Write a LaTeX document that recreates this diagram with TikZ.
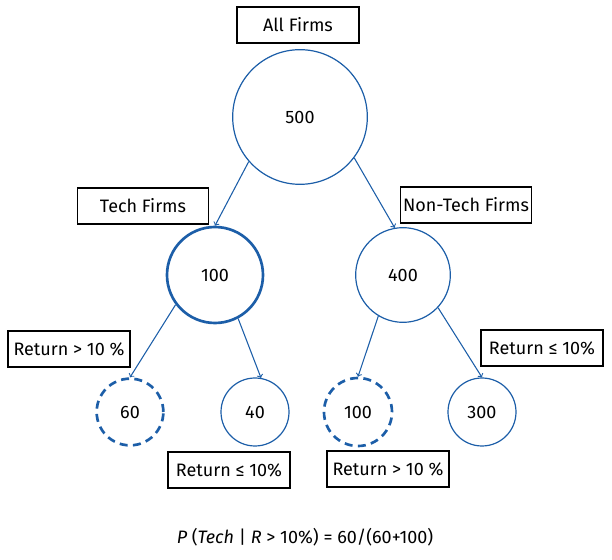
\documentclass[tikz,border=0pt]{standalone}
\usepackage{fontspec}
\setmainfont{Fira Sans}
\usetikzlibrary{arrows}
\definecolor{treeblue}{RGB}{28,94,168}

\begin{document}
\begin{tikzpicture}[x=0.75pt,y=-0.75pt,
  lbl/.style={draw, line width=0.9pt, minimum height=27pt, inner sep=0pt, font=\fontsize{13.5}{15}\selectfont},
  num/.style={circle, draw=treeblue, line width=0.9pt, inner sep=0pt, font=\fontsize{13.5}{15}\selectfont},
  cut/.style={num, dashed, line width=2pt, dash pattern=on 6pt off 4pt},
  edge/.style={draw=treeblue, line width=0.8pt, ->}]
\useasboundingbox (0,0) rectangle (612,560);

\node[lbl, minimum width=91.5pt] (all) at (298,25) {All Firms};
\node[num, minimum size=101pt] (n500) at (300,117) {500};

\node[lbl, minimum width=98pt] (tech) at (143,206) {Tech Firms};
\node[lbl, minimum width=98pt] (nontech) at (466,205) {Non-Tech Firms};
\node[num, line width=2pt, minimum size=72pt] (n100) at (215,275) {100};
\node[num, minimum size=71pt] (n400) at (403,275) {400};

\node[cut, minimum size=50pt] (n60) at (130,412) {60};
\node[num, minimum size=51pt] (n40) at (255,412) {40};
\node[cut, minimum size=51pt] (n100b) at (358,412) {100};
\node[num, minimum size=51pt] (n300) at (482,412) {300};

\node[lbl, minimum width=91.5pt] (hiL) at (69,349) {Return > 10 \%};
\node[lbl, minimum width=91.5pt] (loL) at (229,470) {Return ≤ 10\%};
\node[lbl, minimum width=91.5pt] (loR) at (542,348) {Return ≤ 10\%};
\node[lbl, minimum width=91.5pt] (hiR) at (388,469) {Return > 10 \%};

\draw[edge] (n500.221) -- (n100.north);
\draw[edge] (n500.323) -- (n400.100);
\draw[edge] (n100.217) -- (n60.north);
\draw[edge] (n100.298) -- (n40.80);
\draw[edge] (n400.239) -- (n100b.north);
\draw[edge] (n400.317) -- (n300.north);

\node[font=\fontsize{13.5}{15}\selectfont] (rule) at (305,537) {\textit{P} (\textit{Tech} | \textit{R} > 10\%) = 60/(60+100)};
\end{tikzpicture}
\end{document}
